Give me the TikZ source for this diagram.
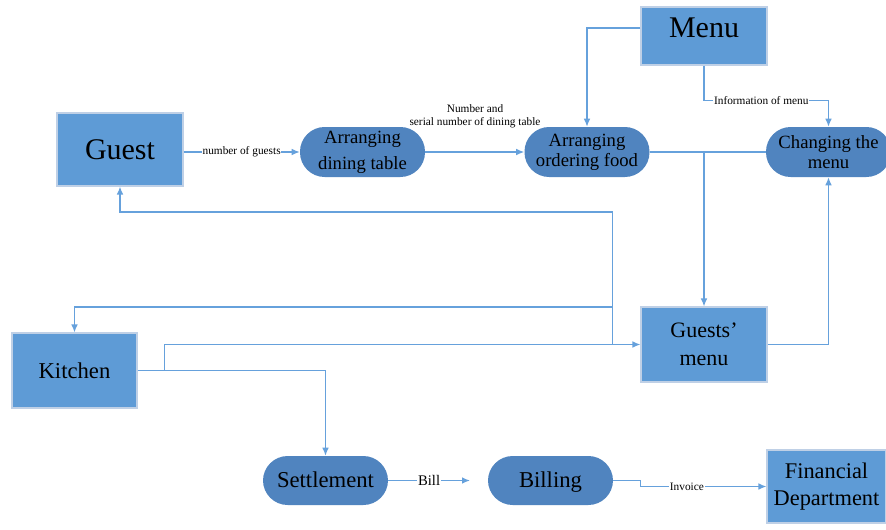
\documentclass[tikz,border=0pt]{standalone}
\usepackage{fontspec}
\setmainfont{Liberation Serif}
\usetikzlibrary{arrows.meta,calc}
\definecolor{boxblue}{HTML}{5E9BD6}
\definecolor{pillblue}{HTML}{5084BF}
\definecolor{edgeblue}{HTML}{BFD0E6}
\definecolor{wireblue}{HTML}{66A1DC}
\begin{document}
\begin{tikzpicture}[x=0.75pt,y=-0.75pt,
  box/.style={draw=edgeblue, line width=0.8pt, fill=boxblue, align=center, inner sep=0pt},
  pill/.style={fill=pillblue, rounded corners=18.5pt, align=center, inner sep=0pt,
               minimum width=93.75pt, minimum height=37.5pt},
  wire/.style={draw=wireblue, line width=1pt},
  arr/.style={wire, -{Latex[length=6pt,width=5pt]}},
  lbl/.style={fill=white, inner sep=0.6pt, font=\fontsize{8.5}{10}\selectfont}]

\useasboundingbox[fill=white] (0,0) rectangle (886,529);

% rectangular entities
\node[box, minimum width=94.5pt, minimum height=54.75pt, font=\fontsize{22.5}{27}\selectfont] (guest) at (120,149.5) {Guest};
\node[box, minimum width=94.5pt, minimum height=43.5pt] (menu) at (704,36) {};
\node[inner sep=0pt, font=\fontsize{22.5}{27}\selectfont] (menutext) at (704,27.5) {Menu};
\node[box, minimum width=93.75pt, minimum height=56.25pt, font=\fontsize{17}{20}\selectfont] (kitchen) at (74.5,370.5) {Kitchen};
\node[box, minimum width=94.5pt, minimum height=56.25pt, font=\fontsize{16.5}{21}\selectfont] (gmenu) at (704,344.5) {Guests’\\menu};
\node[box, minimum width=89.25pt, minimum height=54.75pt, font=\fontsize{16.8}{20}\selectfont] (fd) at (826.5,486.5) {Financial\\Department};

% processes
\node[pill, font=\fontsize{14}{19.5}\selectfont] (dining) at (362.5,152) {Arranging\\dining table};
\node[pill, font=\fontsize{14}{15}\selectfont] (order) at (587,152) {Arranging\\ordering food};
\node[pill, font=\fontsize{14}{15}\selectfont] (change) at (828.5,152) {Changing the\\menu};
\node[pill, minimum height=36.75pt, text height=13pt, text depth=2pt, font=\fontsize{17}{20}\selectfont] (settle) at (325.5,480.5) {Settlement};
\node[pill, minimum height=36.75pt, text height=13pt, text depth=2pt, font=\fontsize{17}{20}\selectfont] (bill) at (550.5,480.5) {Billing};

% flows
\draw[arr] (guest.east |- dining.west) -- node[lbl]{number of guests} (dining.west);
\draw[arr] (dining.east) -- (order.west);
\node[align=center, inner sep=0pt, font=\fontsize{8.5}{10}\selectfont] (seatlbl) at (475,116) {Number and\\serial number of dining table};
\draw[arr] ([yshift=6pt]menu.west) -| (order.north);
\draw[arr] (menu.south) -- ++(0,35) -| node[lbl,pos=0.23]{Information of menu} (change.north);
\draw[wire] (order.east) -- (change.west);
\coordinate (split) at (order.east -| gmenu.north);
\draw[arr] (split) -- (gmenu.north);
\draw[arr] (gmenu.east) -| (change.south);

\coordinate (kjoin) at ($(kitchen.east)+(27,0)$);
\draw[arr] (kitchen.east) -| (settle.north);
\draw[arr] (kjoin) |- (gmenu.west);

\coordinate (tap) at ($(gmenu.west)+(-28,0)$);
\coordinate (tap2) at ($(tap)+(0,-37.5)$);
\draw[arr] (tap) -- ++(0,-132.5) -| (guest.south);
\draw[arr] (tap2) -| (kitchen.north);

\coordinate (billtip) at (470,480.5);
\draw[arr] (settle.east) -- node[lbl, font=\fontsize{11}{12}\selectfont]{Bill} (billtip);
\draw[arr] (bill.east) -- ++(27,0) |- node[lbl,pos=0.685]{Invoice} (fd.west);

\end{tikzpicture}
\end{document}
